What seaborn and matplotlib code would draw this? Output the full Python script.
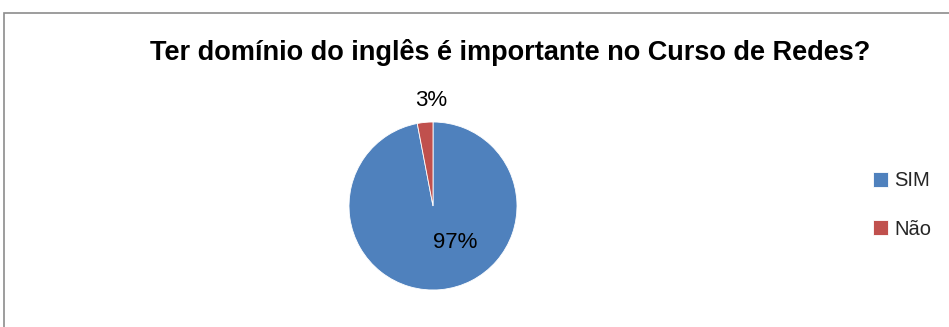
import matplotlib
matplotlib.use("Agg")
import matplotlib.pyplot as plt
from matplotlib.patches import Rectangle
import seaborn as sns

categories = ["SIM", "Não"]
values = [97, 3]
colors = ["#4F81BD", "#C0504D"]
title = "Ter domínio do inglês é importante no Curso de Redes?"

sns.set_theme(style="white")
plt.rcParams['font.family'] = ['Liberation Sans Narrow', 'Liberation Sans', 'DejaVu Sans']

W, H = 949, 327
fig = plt.figure(figsize=(W / 100, H / 100), dpi=100)

# chart frame (right/bottom edges fall outside the crop)
fig.patches.append(Rectangle((4 / W, -0.1), 1.2, 1 - 13 / H + 0.1,
                             transform=fig.transFigure, fill=False,
                             edgecolor="#8c8c8c", linewidth=1.2))

fig.text(510 / W, 1 - 53 / H, title, ha="center", va="center",
         fontsize=19.5, fontweight="bold", color="black")

cx, cy, half = 433, 206, 100
ax = fig.add_axes([(cx - half) / W, (H - cy - half) / H, 2 * half / W, 2 * half / H])
wedges, texts, autotexts = ax.pie(values, colors=colors, startangle=90,
                                  counterclock=False, autopct="%1.0f%%",
                                  wedgeprops=dict(linewidth=0.6, edgecolor="white"),
                                  textprops=dict(fontsize=16, color="black"))
lim = half / 84
ax.set_xlim(-lim, lim)
ax.set_ylim(-lim, lim)
ax.set_aspect("equal")
ax.axis("off")

# Excel-style label placement
autotexts[0].set_position((0.27, -0.43))
autotexts[1].set_position((-0.02, 1.26))

fig.legend(wedges, categories, loc="center left",
           bbox_to_anchor=(873 / W, 1 - 205 / H), frameon=False,
           borderpad=0, borderaxespad=0,
           fontsize=14.5, handlelength=0.72, handleheight=0.72,
           handletextpad=0.35, labelspacing=1.45)

fig.savefig("out.png", dpi=100)
